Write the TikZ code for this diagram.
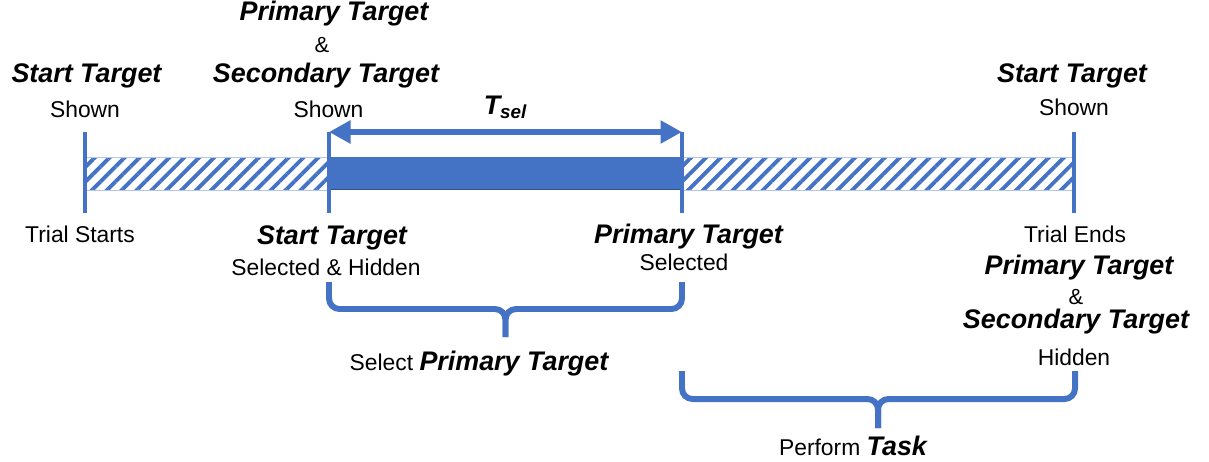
\documentclass[tikz,border=0pt]{standalone}
\usepackage{fontspec}
\setmainfont{Liberation Sans}
\usepackage{tikz}
\usetikzlibrary{arrows.meta,positioning,calc,patterns.meta}
\definecolor{tlblue}{HTML}{4472C4}
\definecolor{tldark}{HTML}{2F528F}
\definecolor{tlpale}{HTML}{B4C7E7}

\begin{document}
\begin{tikzpicture}[
  x=0.02cm, y=-0.02cm,
  plain/.style={font=\fontsize{13}{15}\selectfont, inner sep=0pt, anchor=base},
  key/.style={font=\fontsize{15.3}{18}\selectfont\bfseries\itshape, inner sep=0pt, anchor=base},
  amp/.style={font=\fontsize{12.5}{14}\selectfont, inner sep=0pt, anchor=base},
  tick/.style={line width=2.8pt, tlblue},
  hatchbar/.style={pattern={Lines[angle=45, distance=6pt, line width=2.2pt]}, pattern color=tlblue, draw=tlpale, line width=0.5pt},
  selbar/.style={fill=tlblue},
  span/.style={{Triangle[length=0.43cm, width=0.44cm]}-{Triangle[length=0.43cm, width=0.44cm]}, line width=3.8pt, tlblue},
  brace/.style={line width=3.4pt, tlblue, rounded corners=6pt}]
  \useasboundingbox (0,0) rectangle (1209,461);
  \foreach \x/\n in {85/start,329/shown,682/picked,1074/end}{
    \coordinate (\n-top) at (\x,132);
    \coordinate (\n-bot) at (\x,213);
  }
  \path[hatchbar] (85,157) rectangle (329,190);
  \path[hatchbar] (682,157) rectangle (1074,190);
  \path[selbar] (329,157) rectangle (682,190);
  \draw[tldark, line width=1pt] (329,189.5) -- (682,189.5);
  \foreach \n in {start,shown,picked,end}
    \draw[tick] (\n-top) -- (\n-bot);
  \draw[span] (shown-top) -- node[key, text=black, anchor=south, above=0.19cm] (tsel) {T\textsubscript{sel}} (picked-top);
  % upper labels
  \node[key] (st-start) at (86.5,82) {Start Target};
  \node[plain] (sh-start) at (85,117) {Shown};
  \node[key] (pt-shown) at (334,20) {Primary Target};
  \node[amp] (amp-shown) at (322,52) {\&};
  \node[key] (sc-shown) at (326,82) {Secondary Target};
  \node[plain] (sh-shown) at (328.5,117) {Shown};
  \node[key] (st-end) at (1072,82) {Start Target};
  \node[plain] (sh-end) at (1074,115) {Shown};
  % lower labels
  \node[plain] (trial-start) at (80,242) {Trial Starts};
  \node[key] (st-sel) at (332,244) {Start Target};
  \node[plain] (st-hid) at (326,275) {Selected \& Hidden};
  \node[key] (pt-sel) at (688.5,243) {Primary Target};
  \node[plain] (pt-word) at (684,270) {Selected};
  \node[plain] (trial-end) at (1075,242) {Trial Ends};
  \node[key] (pt-end) at (1079,274) {Primary Target};
  \node[amp] (amp-end) at (1076,304) {\&};
  \node[key] (sc-end) at (1076,328) {Secondary Target};
  \node[plain] (hid-end) at (1074,365) {Hidden};
  % phases
  \coordinate (sel-tip) at (505.5,337);
  \coordinate (task-tip) at (878,428);
  \draw[brace] (329,282) |- (sel-tip |- 0,309) -- (sel-tip);
  \draw[brace] (682,282) |- (sel-tip |- 0,309) -- (sel-tip);
  \draw[brace] (682,371) |- (task-tip |- 0,399) -- (task-tip);
  \draw[brace] (1075,371) |- (task-tip |- 0,399) -- (task-tip);
  \node[plain] (sel-phase) at (479,370) {Select {\fontsize{15.3}{18}\selectfont\bfseries\itshape Primary Target}};
  \node[plain] (task-phase) at (853,455) {Perform {\fontsize{15.3}{18}\selectfont\bfseries\itshape Task}};
\end{tikzpicture}
\end{document}
